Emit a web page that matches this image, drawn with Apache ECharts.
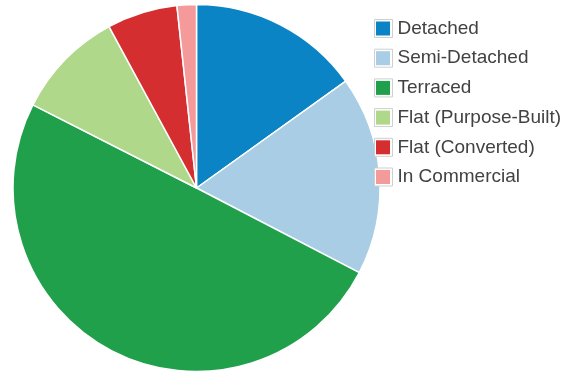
<!DOCTYPE html>
<html><head><meta charset="utf-8">
<script src="https://cdn.jsdelivr.net/npm/echarts@6/dist/echarts.min.js"></script>
<style>html,body{margin:0;padding:0;background:#fff}#c{width:563px;height:372px}</style>
</head><body><div id="c"></div>
<script>
var categories = ['Detached','Semi-Detached','Terraced','Flat (Purpose-Built)','Flat (Converted)','In Commercial'];
var values = [15.1, 17.5, 49.8, 9.6, 6.2, 1.7];
var colors = ['#0b84c6','#a8cde5','#21a04b','#afd88a','#d42e30','#f49a9b'];

var chart = echarts.init(document.getElementById('c'));
var data = categories.map(function(n,i){return {name:n,value:values[i],itemStyle:{color:colors[i]}};});
var legendBase = {
  orient:'vertical', left:374, top:18.5, itemGap:9.7, padding:0,
  data: categories, selectedMode:false,
  textStyle:{fontFamily:'Liberation Sans, Arial, sans-serif', fontSize:19, lineHeight:20, color:'#424242'}
};
chart.setOption({
  animation:false,
  legend:[
    Object.assign({}, legendBase, {icon:'rect', itemWidth:18, itemHeight:18,
      itemStyle:{color:'#fff', borderColor:'#cfcfcf', borderWidth:1}}),
    Object.assign({}, legendBase, {icon:'rect', left:376, itemWidth:14, itemHeight:14,
      textStyle:Object.assign({}, legendBase.textStyle, {color:'rgba(0,0,0,0)'}),
      itemStyle:{borderWidth:0}})
  ],
  series:[{
    type:'pie', center:[196.5,188], radius:[0,183.5], startAngle:90, clockwise:true,
    label:{show:false}, labelLine:{show:false}, silent:true,
    itemStyle:{borderColor:'#fff', borderWidth:1.5},
    data:data
  }]
});
</script></body></html>
